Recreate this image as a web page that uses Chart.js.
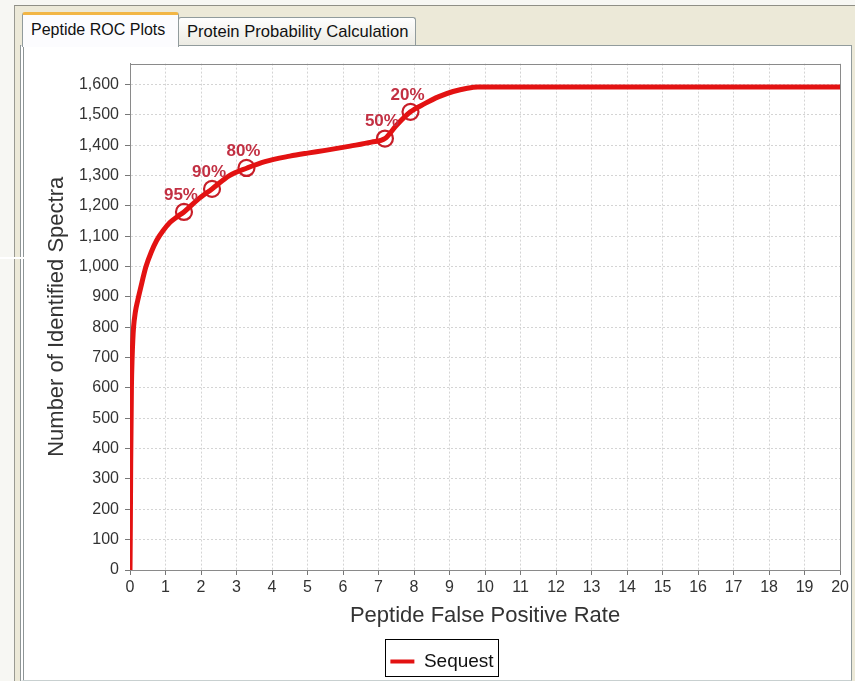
<!DOCTYPE html>
<html>
<head>
<meta charset="utf-8">
<script src="https://cdn.jsdelivr.net/npm/chart.js@4/dist/chart.umd.min.js"></script>
<style>
  html, body { margin: 0; padding: 0; }
  body { width: 855px; height: 681px; position: relative; overflow: hidden; background: #f7f7f3; font-family: "Liberation Sans", Arial, sans-serif; }
  #frame { position: absolute; left: 14px; top: 5px; right: 0; bottom: 0; background: #ece9d8; border-left: 1px solid #9a9a92; border-top: 1px solid #8f8f86; }
  .tab { position: absolute; box-sizing: border-box; font-size: 16px; color: #111; white-space: nowrap; border: 1px solid #919b9c; border-bottom: none; border-radius: 3px 3px 0 0; }
  #tab1 { left: 22px; top: 12px; width: 157px; height: 35px; background: #fcfcfe; border-top: 3px solid #f2b646; padding: 6px 0 0 8px; z-index: 3; }
  #tab2 { left: 178px; top: 17px; width: 238px; height: 28px; background: linear-gradient(#fefefe, #ecebe3); padding: 4px 0 0 8px; font-size: 16.6px; z-index: 2; }
  #panel { position: absolute; left: 20px; top: 45px; width: 832px; height: 636px; background: #ffffff; border: 1px solid #919b9c; box-sizing: border-box; border-left: 4px double #8e9596; border-bottom-color: #c8d0d0; }
  #wrap { position: absolute; left: 24px; top: 48px; width: 828px; height: 633px; }
  #glitch { position: absolute; left: 0; top: 257px; width: 128px; height: 2px; background: #ffffff; z-index: 5; }
</style>
</head>
<body>
<div id="frame"></div>
<div id="panel"></div>
<div class="tab" id="tab2">Protein Probability Calculation</div>
<div class="tab" id="tab1">Peptide ROC Plots</div>
<div id="wrap"><canvas id="roc" width="828" height="633"></canvas></div>
<div id="glitch"></div>
<script>
// ROC curve for Sequest: false positive rate (%) vs. number of identified spectra
const fpRate = [0, 0.01, 0.02, 0.04, 0.06, 0.08, 0.1, 0.15, 0.22, 0.3, 0.45, 0.6, 0.75, 0.93, 1.13, 1.35, 1.52,
                1.9, 2.31, 2.8, 3.3, 3.8, 4.5, 5.0, 5.5, 6.2, 6.8, 7.18, 7.5, 7.9, 8.3, 8.7, 9.1, 9.5, 9.8, 20];
const spectra = [0, 150, 350, 600, 700, 760, 800, 850, 890, 930, 1000, 1048, 1086, 1118, 1146, 1166, 1180,
                 1220, 1256, 1300, 1325, 1346, 1364, 1374, 1383, 1397, 1410, 1422, 1465, 1510, 1537, 1560, 1577, 1588, 1592, 1592];

// probability cut-off markers along the curve
const markerLabels = ['95%', '90%', '80%', '50%', '20%'];
const markerRate = [1.52, 2.31, 3.28, 7.18, 7.9];
const markerSpectra = [1180, 1256, 1325, 1422, 1510];

const xTicksMax = 20;
const yAxisMax = 1669;

const curve = fpRate.map((x, i) => ({ x, y: spectra[i] }));
const markers = markerRate.map((x, i) => ({ x, y: markerSpectra[i] }));

const RED = '#e31212';
const FONT = '"Liberation Sans", Arial, sans-serif';

// box around the plot and the legend, plus the cut-off labels
const decorations = {
  id: 'decorations',
  beforeDatasetsDraw(chart) {
    const { ctx, chartArea: a } = chart;
    ctx.save();
    ctx.strokeStyle = '#8a8a8a';
    ctx.lineWidth = 1;
    ctx.strokeRect(Math.round(a.left) + 0.5, Math.round(a.top) + 0.5, Math.round(a.right - a.left), Math.round(a.bottom - a.top));
    ctx.restore();
  },
  afterDatasetsDraw(chart) {
    const { ctx } = chart;
    const meta = chart.getDatasetMeta(1);
    ctx.save();
    ctx.font = 'bold 17px ' + FONT;
    ctx.fillStyle = '#c23043';
    ctx.textAlign = 'center';
    ctx.textBaseline = 'middle';
    meta.data.forEach((pt, i) => {
      ctx.fillText(markerLabels[i], pt.x - 3, pt.y - 17);
    });
    ctx.restore();
  },
  afterDraw(chart) {
    const boxes = chart.legend && chart.legend.legendHitBoxes;
    if (!boxes || !boxes.length) return;
    const b = boxes[0];
    const { ctx } = chart;
    ctx.save();
    ctx.strokeStyle = '#000';
    ctx.lineWidth = 1;
    ctx.strokeRect(Math.round(b.left - 5) + 0.5, Math.round(b.top - 13) + 0.5, Math.round(b.width + 10), Math.round(b.height + 18));
    ctx.restore();
  }
};

new Chart(document.getElementById('roc'), {
  type: 'scatter',
  data: {
    datasets: [
      {
        label: 'Sequest',
        data: curve,
        showLine: true,
        borderColor: RED,
        backgroundColor: RED,
        borderWidth: 5,
        pointRadius: 0,
        cubicInterpolationMode: 'monotone'
      },
      {
        label: 'cut-offs',
        data: markers,
        showLine: false,
        pointRadius: 8,
        pointBorderWidth: 2.2,
        pointBorderColor: '#c81e28',
        pointBackgroundColor: 'rgba(0,0,0,0)'
      }
    ]
  },
  options: {
    responsive: false,
    animation: false,
    layout: { padding: { left: 16, top: 14, right: 8, bottom: 0 } },
    plugins: {
      tooltip: { enabled: false },
      legend: {
        position: 'bottom',
        labels: {
          font: { family: FONT, size: 19 },
          color: '#111',
          boxWidth: 24,
          boxHeight: 4,
          padding: 4,
          filter: item => item.datasetIndex === 0,
          generateLabels(chart) {
            return Chart.defaults.plugins.legend.labels.generateLabels(chart).map(l => Object.assign(l, { lineWidth: 0, fillStyle: RED }));
          }
        }
      }
    },
    scales: {
      x: {
        type: 'linear',
        min: 0,
        max: xTicksMax,
        afterFit(scale) { scale.height = 78; },
        ticks: { stepSize: 1, padding: 3, color: '#333', font: { family: FONT, size: 16 }, maxRotation: 0, autoSkip: false },
        grid: { color: '#d4d4d4', tickColor: '#777', tickLength: 5 },
        border: { color: '#8a8a8a', dash: [2, 2] },
        title: { display: true, text: 'Peptide False Positive Rate', color: '#333', font: { family: FONT, size: 22 }, padding: { top: 4, bottom: 19 } }
      },
      y: {
        type: 'linear',
        min: 0,
        max: yAxisMax,
        afterFit(scale) { scale.width = 90; },
        ticks: { stepSize: 100, includeBounds: false, padding: 6, color: '#333', font: { family: FONT, size: 16 } },
        grid: { color: '#d4d4d4', tickColor: '#777', tickLength: 5 },
        border: { color: '#8a8a8a', dash: [2, 2] },
        title: { display: true, text: 'Number of Identified Spectra', color: '#333', font: { family: FONT, size: 22 }, padding: { top: 4, bottom: 4 } }
      }
    }
  },
  plugins: [decorations]
});
</script>
</body>
</html>
